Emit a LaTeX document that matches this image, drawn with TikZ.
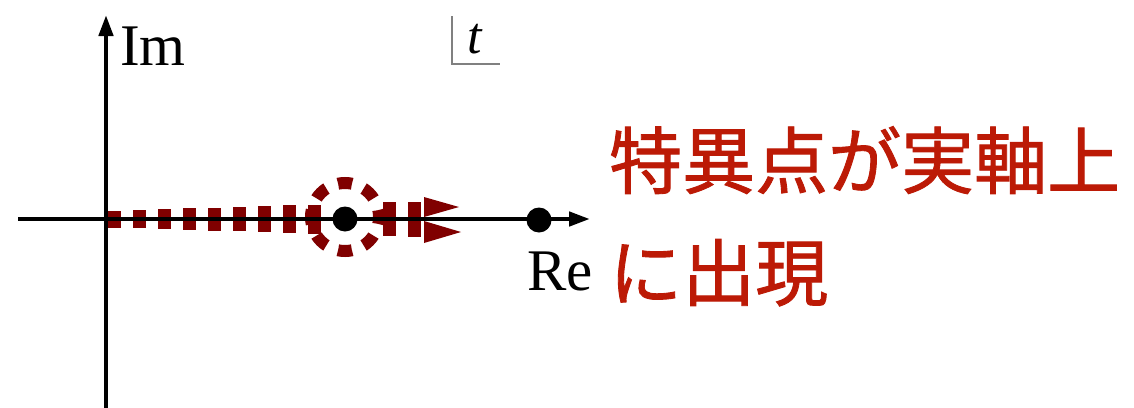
\documentclass[tikz,border=0pt]{standalone}
\usepackage{fontspec}
\setmainfont{Liberation Serif}
\newfontfamily\cjk[FakeBold=1.2]{Noto Sans CJK JP}
\usetikzlibrary{arrows.meta}
\definecolor{dred}{RGB}{128,0,0}
\definecolor{tred}{RGB}{188,26,6}
\definecolor{lgray}{RGB}{128,128,128}
\begin{document}
\begin{tikzpicture}[x=1pt,y=-1pt,
  axis/.style={line width=4.5pt,-{Triangle[length=21pt,width=14pt]}},
  lbl/.style={inner sep=0pt,anchor=base west,font=\fontsize{59}{59}\selectfont},
  jp/.style={inner sep=0pt,anchor=base west,text=tred,font=\cjk\fontsize{73}{73}\selectfont},
  dot/.style={circle,fill=black,minimum size=25pt,inner sep=0pt},
  ringline/.style={draw=dred,line width=12pt,dash pattern=on 14pt off 12.7pt,dash phase=7pt},
  ]
\useasboundingbox (0,0) rectangle (1134,407);
% tapered dashed arrow
\foreach \i in {0,...,8,11,12} {
  \pgfmathsetmacro\xa{108+25*\i}
  \pgfmathsetmacro\hh{8.5+0.75*\i}
  \fill[dred] (\xa,219-\hh) rectangle (\xa+13,219+\hh);
}
\fill[dred] (424,197) -- (459,207) -- (424,217) -- cycle;
\fill[dred] (424,221) -- (461,232) -- (424,243) -- cycle;
% dashed ring
\draw[ringline] (345,217) circle[radius=34];
% axes
\coordinate (xl) at (18,219);
\coordinate (xr) at (590,219);
\coordinate (yb) at (106,412);
\coordinate (yt) at (106,15);
\draw[axis] (xl) -- (xr);
\draw[axis] (yb) -- (yt);
% points
\node[dot] (p1) at (345,219) {};
\node[dot] (p2) at (539,220) {};
% labels
\node[lbl] (im) at (120,65) {Im};
\node[lbl] (re) at (527,290) {Re};
\node[inner sep=0pt,anchor=base west,font=\itshape\fontsize{52}{52}\selectfont] (t) at (467,53) {t};
\coordinate (ta) at (452,16);
\coordinate (tb) at (452,64);
\coordinate (tc) at (500,64);
\draw[lgray,line width=1.5pt] (ta) -- (tb) -- (tc);
\node[jp] (j1) at (609,188) {特異点が実軸上};
\node[jp] (j2) at (609,300) {に出現};
\end{tikzpicture}
\end{document}
